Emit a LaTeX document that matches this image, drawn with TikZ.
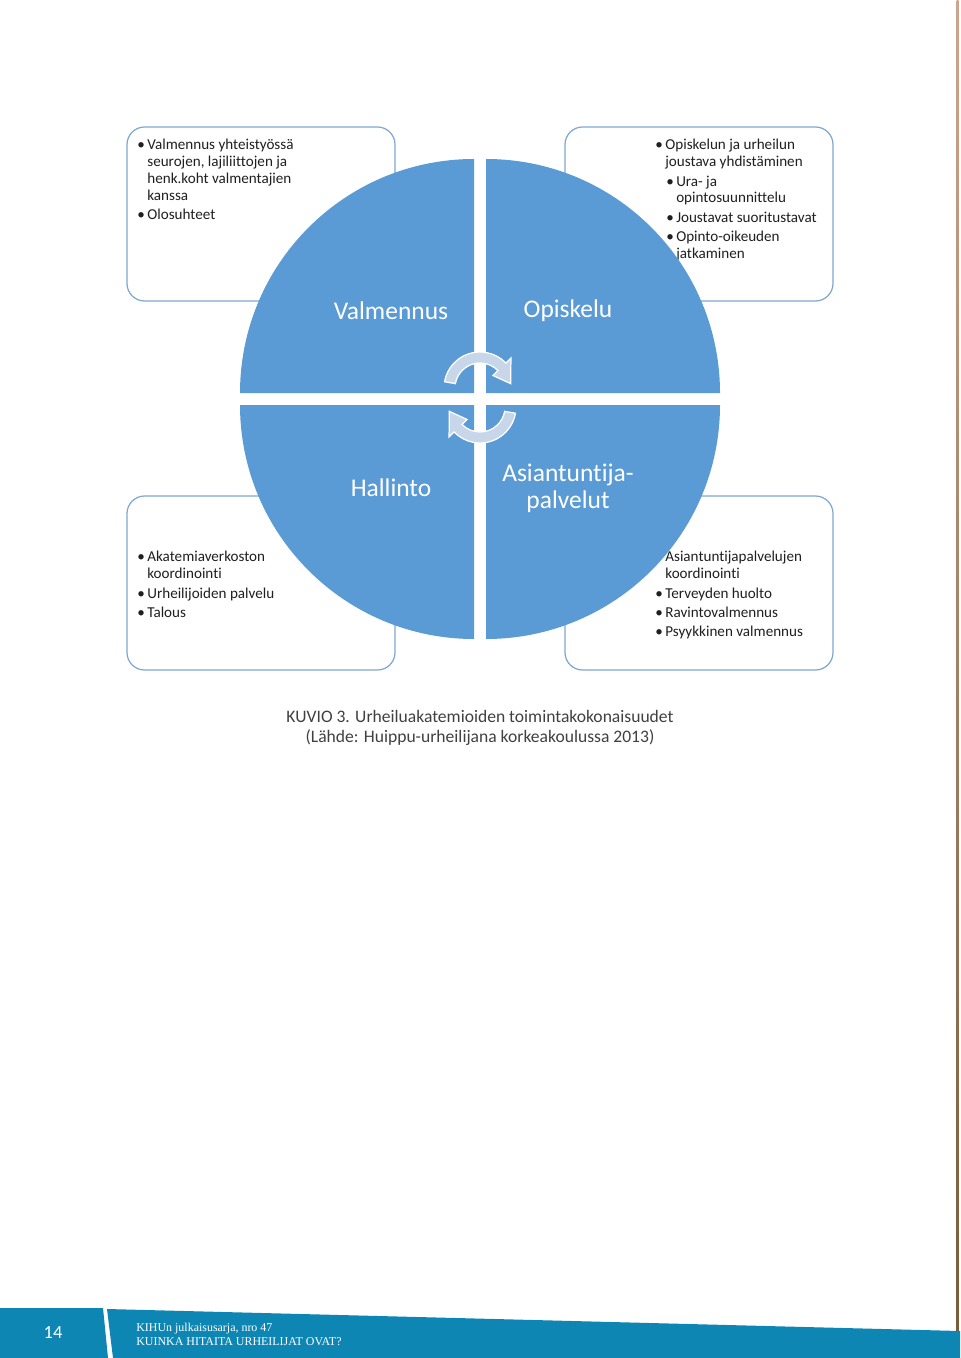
\documentclass[tikz,border=0pt]{standalone}
\usepackage{fontspec}
\setmainfont{Carlito}[Ligatures=NoCommon]
\newfontfamily\footfont{Liberation Serif}
\usepackage{tikz}
\definecolor{quadblue}{RGB}{91,155,213}
\definecolor{boxline}{RGB}{127,167,211}
\definecolor{arrowfill}{RGB}{200,214,234}
\definecolor{bandblue}{RGB}{14,134,180}
\definecolor{captiongray}{RGB}{64,64,64}
\newcommand{\bu}{\makebox[5.7pt][l]{\textbullet}}
\newcommand{\nb}{\hspace*{5.7pt}}
\newcommand{\sub}{\hspace*{6.2pt}}

\begin{document}
\begin{tikzpicture}[x=0.02cm,y=-0.02cm,
  infobox/.style={draw=boxline,line width=0.7pt,fill=white,rounded corners=10pt},
  boxtext/.style={anchor=north west,inner sep=0pt,align=left,text=black!88,font=\fontsize{8.6}{9.6}\selectfont},
  quadlabel/.style={text=white,font=\fontsize{14.5}{15.3}\selectfont,align=center},
  turn/.style={fill=arrowfill,draw=white,line width=0.7pt}]
  \useasboundingbox (0,0) rectangle (960,1358);
  % boxes behind the circle
  \foreach \x/\y in {127/127,565/127,127/496,565/496}
    \draw[infobox] (\x,\y) rectangle ++(268,174);
  \node[boxtext] (valmtext) at (137,139) {\bu Valmennus yhteistyössä\\ \nb seurojen, lajiliittojen ja\\ \nb henk.koht valmentajien\\ \nb kanssa\\[1.4pt] \bu Olosuhteet};
  \node[boxtext] (opistext) at (655,139) {\bu Opiskelun ja urheilun\\ \nb joustava yhdistäminen\\[1.4pt] \sub\bu Ura- ja\\ \sub\nb opintosuunnittelu\\[1.4pt] \sub\bu Joustavat suoritustavat\\[1.4pt] \sub\bu Opinto-oikeuden\\ \sub\nb jatkaminen};
  \node[boxtext] (halltext) at (137,551) {\bu Akatemiaverkoston\\ \nb koordinointi\\[1.4pt] \bu Urheilijoiden palvelu\\[1.4pt] \bu Talous};
  \node[boxtext] (asiatext) at (655,551) {\bu Asiantuntijapalvelujen\\ \nb koordinointi\\[1.4pt] \bu Terveyden huolto\\[1.4pt] \bu Ravintovalmennus\\[1.4pt] \bu Psyykkinen valmennus};
  % four quarters of the circle
  \foreach \cx/\cy/\a in {474/393/180,486/393/270,486/405/0,474/405/90}
    \fill[quadblue] (\cx,\cy) -- ++(\a:234) arc[start angle=\a,delta angle=90,radius=234] -- cycle;
  \foreach \r in {0,180}
    \filldraw[turn,rotate around={\r:(480,397.5)},shift={(480,388)}] (190:36) arc[start angle=190,end angle=316,radius=36] -- (316:43) -- (352:31) -- (316:18) -- (316:25) arc[start angle=316,end angle=190,radius=25] -- cycle;
  \node[quadlabel] (valm) at (391,311) {Valmennus};
  \node[quadlabel] (opis) at (568,311) {Opiskelu};
  \node[quadlabel] (hall) at (391,488) {Hallinto};
  \node[quadlabel] (asia) at (568,488) {Asiantuntija-\\palvelut};
  \node[text=captiongray,font=\fontsize{10}{11.3}\selectfont,align=center] (caption) at (480,728) {KUVIO 3. Urheiluakatemioiden toimintakokonaisuudet\\(Lähde: Huippu-urheilijana korkeakoulussa 2013)};
  % page footer and edge
  \shade[top color={rgb,255:red,205;green,165;blue,140},middle color={rgb,255:red,180;green,172;blue,112},bottom color={rgb,255:red,120;green,92;blue,60}] (956.5,0) rectangle (958.5,1331);
  \fill[bandblue] (0,1308) -- (103,1308) -- (108,1358) -- (0,1358) -- cycle;
  \fill[bandblue] (107,1309) -- (960,1331) -- (960,1358) -- (113,1358) -- cycle;
  \node[text=white,font=\fontsize{10.5}{12}\selectfont] (pagenum) at (53,1333) {14};
  \node[anchor=west,inner sep=0pt,text=white,font=\footfont\fontsize{6.8}{8}\selectfont,align=left] (series) at (136,1334) {KIHUn julkaisusarja, nro 47\\KUINKA HITAITA URHEILIJAT OVAT?};
\end{tikzpicture}
\end{document}
